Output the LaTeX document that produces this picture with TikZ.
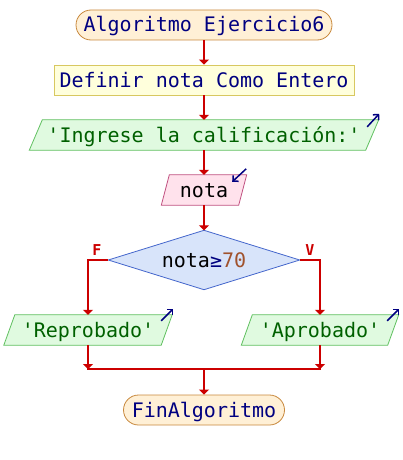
\documentclass[tikz,border=0pt]{standalone}
\usepackage{fontspec}
\setmonofont{DejaVu Sans Mono}
\usetikzlibrary{arrows.meta,backgrounds,calc}
\definecolor{flowred}{HTML}{CC0000}
\definecolor{navy}{HTML}{000080}
\definecolor{termfill}{HTML}{FFF0D6}
\definecolor{termdraw}{HTML}{C8883C}
\definecolor{deffill}{HTML}{FFFFDC}
\definecolor{defdraw}{HTML}{D8C860}
\definecolor{outfill}{HTML}{E0FAE0}
\definecolor{outdraw}{HTML}{60C060}
\definecolor{outtext}{HTML}{006000}
\definecolor{infill}{HTML}{FFE2EC}
\definecolor{indraw}{HTML}{C05080}
\definecolor{condfill}{HTML}{D8E4FA}
\definecolor{conddraw}{HTML}{4466CC}
\definecolor{numcol}{HTML}{A0522D}
\begin{document}
\begin{tikzpicture}[x=1pt,y=-1pt,
  txt/.style={font=\fontsize{20}{24}\selectfont\ttfamily, inner sep=0pt,
    text height=15pt, text depth=1pt, minimum height=30},
  term/.style={txt, draw=termdraw, fill=termfill, rounded corners=15pt, line width=0.8pt, text=navy},
  defbox/.style={txt, draw=defdraw, fill=deffill, line width=0.8pt, text=navy},
  outbox/.style={txt, text=outtext},
  inbox/.style={txt, text=black},
  outshape/.style={draw=outdraw, fill=outfill, line width=0.8pt},
  inshape/.style={draw=indraw, fill=infill, line width=0.8pt},
  condshape/.style={draw=conddraw, fill=condfill, line width=0.8pt},
  flow/.style={draw=flowred, line width=2pt, -{Triangle[length=5pt,width=10pt]}},
  plain/.style={draw=flowred, line width=2pt},
  icon/.style={draw=navy, line width=1.5pt, -{Straight Barb[length=4pt,width=8pt]}},
  lab/.style={font=\fontsize{15}{18}\selectfont\ttfamily\bfseries, text=flowred, inner sep=0pt}
]
\useasboundingbox (0,0) rectangle (402,460);

\node[term, minimum width=256] (start) at (204,25) {Algoritmo Ejercicio6};
\node[defbox, minimum width=300] (def) at (204,80) {Definir nota Como Entero};
\node[outbox, minimum width=336] (in1) at (204,135) {'Ingrese la calificación:'};
\node[inbox, minimum width=77] (in2) at (204,190) {nota};
\node[txt, minimum width=191, minimum height=59] (cond) at (204,260)
  {nota{\color{navy}≥}{\color{numcol}70}};
\node[outbox, minimum width=157] (rep) at (88,330) {'Reprobado'};
\node[outbox, minimum width=146] (apr) at (320,330) {'Aprobado'};
\node[term, minimum width=161] (fin) at (204,410) {FinAlgoritmo};
\node[lab] (lf) at (97,250) {F};
\node[lab] (lv) at (310,250) {V};
\coordinate (j) at (204,369);

\begin{pgfonlayer}{background}
  \path[outshape] ([xshift=-6.5]in1.south west) -- ([xshift=6.5]in1.north west)
    -- ([xshift=6.5]in1.north east) -- ([xshift=-6.5]in1.south east) -- cycle;
  \path[inshape] ([xshift=-4]in2.south west) -- ([xshift=4]in2.north west)
    -- ([xshift=4]in2.north east) -- ([xshift=-4]in2.south east) -- cycle;
  \path[outshape] ([xshift=-5.5]rep.south west) -- ([xshift=5.5]rep.north west)
    -- ([xshift=5.5]rep.north east) -- ([xshift=-5.5]rep.south east) -- cycle;
  \path[outshape] ([xshift=-5.5]apr.south west) -- ([xshift=5.5]apr.north west)
    -- ([xshift=5.5]apr.north east) -- ([xshift=-5.5]apr.south east) -- cycle;
  \path[condshape] (cond.north) -- (cond.east) -- (cond.south) -- (cond.west) -- cycle;
\end{pgfonlayer}

\draw[icon] ($(in1.north east)+(-5,7)$) -- ++(12,-13);
\draw[icon] ($(in2.north east)+(3.5,-6)$) -- ++(-14,13);
\draw[icon] ($(rep.north east)+(-5.5,6)$) -- ++(12,-12);
\draw[icon] ($(apr.north east)+(-6,6)$) -- ++(12,-12);

\draw[flow] (start) -- (def);
\draw[flow] (def) -- (in1);
\draw[flow] (in1) -- (in2);
\draw[flow] (in2) -- (cond.north);
\draw[flow] (cond.west) -| (rep.north);
\draw[flow] (cond.east) -| (apr.north);
\draw[flow] (rep.south) -- (rep.south |- j);
\draw[flow] (apr.south) -- (apr.south |- j);
\draw[plain] ([xshift=-1]rep.south |- j) -- ([xshift=1]apr.south |- j);
\draw[flow] (j) -- (fin);
\end{tikzpicture}
\end{document}
